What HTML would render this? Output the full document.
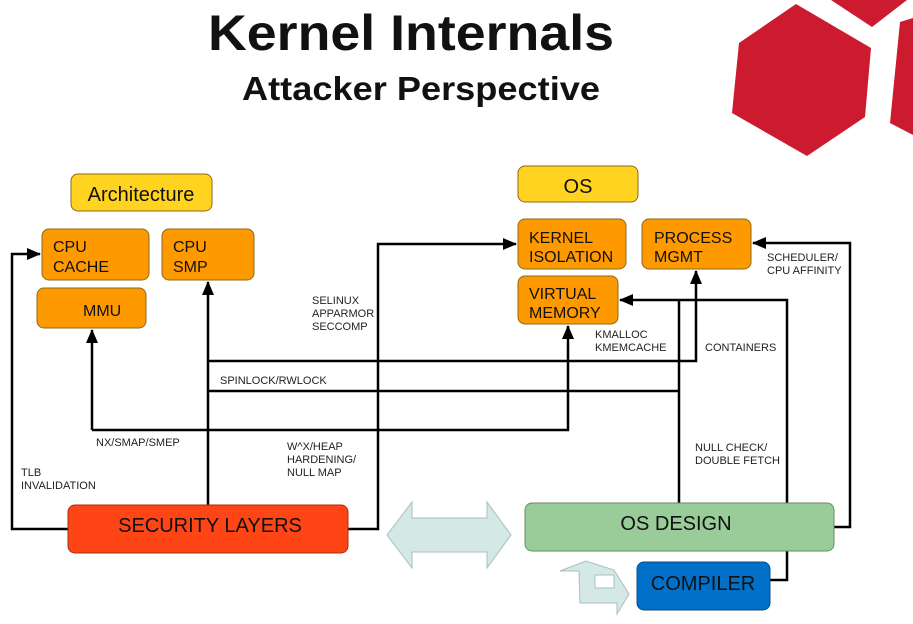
<!DOCTYPE html>
<html><head><meta charset="utf-8"><style>
body{margin:0;background:#fff;}
svg text{font-family:"Liberation Sans",sans-serif;}
</style></head><body>
<svg width="913" height="619" viewBox="0 0 913 619" xmlns="http://www.w3.org/2000/svg">
<rect width="913" height="619" fill="#fff"/>
<!-- logo -->
<polygon points="796,4 871,48 865,117 807,156 732,113 739,43" fill="#cc1a2e"/>
<polygon points="831,0 907,0 872,27" fill="#cc1a2e"/>
<polygon points="900,22 913,18 913,135 890,123" fill="#cc1a2e"/>
<!-- title -->
<text x="411" y="50" font-size="50" font-weight="bold" text-anchor="middle" fill="#111" textLength="406" lengthAdjust="spacingAndGlyphs">Kernel Internals</text>
<text x="421" y="100" font-size="33" font-weight="bold" text-anchor="middle" fill="#111" textLength="358" lengthAdjust="spacingAndGlyphs">Attacker Perspective</text>

<defs><marker id="a" markerWidth="14" markerHeight="12" refX="13" refY="6" orient="auto" markerUnits="userSpaceOnUse"><polygon points="0,0 14,6 0,12" fill="#000"/></marker></defs>
<g stroke="#000" stroke-width="2.5" fill="none">
<polyline points="68,529 12,529 12,254 40,254" marker-end="url(#a)"/>
<polyline points="208,505 208,282" marker-end="url(#a)"/>
<polyline points="208,361 696,361 696,271" marker-end="url(#a)"/>
<polyline points="208,391 679,391"/>
<polyline points="679,503 679,300"/>
<polyline points="787,503 787,300 620,300" marker-end="url(#a)"/>
<polyline points="92,430 92,330" marker-end="url(#a)"/>
<polyline points="92,430 568,430 568,326" marker-end="url(#a)"/>
<polyline points="348,529 378,529 378,244 516,244" marker-end="url(#a)"/>
<polyline points="834,527 850,527 850,243 753,243" marker-end="url(#a)"/>
<polyline points="770,580 787,580 787,551"/>
</g>

<!-- boxes -->
<g stroke="#8a6a1a" stroke-width="1">
<rect x="71" y="174" width="141" height="37" rx="7" fill="#ffd320"/>
<rect x="518" y="166" width="120" height="36" rx="7" fill="#ffd320"/>
<rect x="42" y="229" width="107" height="51" rx="7" fill="#ff9900"/>
<rect x="162" y="229" width="92" height="51" rx="7" fill="#ff9900"/>
<rect x="37" y="288" width="109" height="40" rx="7" fill="#ff9900"/>
<rect x="518" y="219" width="108" height="50" rx="7" fill="#ff9900"/>
<rect x="642" y="219" width="109" height="50" rx="7" fill="#ff9900"/>
<rect x="518" y="276" width="100" height="48" rx="7" fill="#ff9900"/>
<rect x="68" y="505" width="280" height="48" rx="7" fill="#ff4515" stroke="#a03010"/>
<rect x="525" y="503" width="309" height="48" rx="7" fill="#99cc99" stroke="#6a8a6a"/>
<rect x="637" y="562" width="133" height="48" rx="7" fill="#0070c8" stroke="#124a80"/>
</g>
<g fill="#111" font-size="16">
<text x="141" y="201" font-size="20" text-anchor="middle">Architecture</text>
<text x="578" y="193" font-size="20" text-anchor="middle">OS</text>
<text x="53" y="252">CPU</text><text x="53" y="272">CACHE</text>
<text x="173" y="252">CPU</text><text x="173" y="272">SMP</text>
<text x="83" y="316">MMU</text>
<text x="529" y="243">KERNEL</text><text x="529" y="262">ISOLATION</text>
<text x="654" y="243">PROCESS</text><text x="654" y="262">MGMT</text>
<text x="529" y="299">VIRTUAL</text><text x="529" y="318">MEMORY</text>
<text x="210" y="532" font-size="20" text-anchor="middle">SECURITY LAYERS</text>
<text x="676" y="530" font-size="20" text-anchor="middle">OS DESIGN</text>
<text x="703" y="590" font-size="20" text-anchor="middle">COMPILER</text>
</g>
<g fill="#222" font-size="11">
<text x="312" y="304">SELINUX</text><text x="312" y="317">APPARMOR</text><text x="312" y="330">SECCOMP</text>
<text x="220" y="384">SPINLOCK/RWLOCK</text>
<text x="96" y="446">NX/SMAP/SMEP</text>
<text x="287" y="450">W^X/HEAP</text><text x="287" y="463">HARDENING/</text><text x="287" y="476">NULL MAP</text>
<text x="21" y="476">TLB</text><text x="21" y="489">INVALIDATION</text>
<text x="595" y="338">KMALLOC</text><text x="595" y="351">KMEMCACHE</text>
<text x="705" y="351">CONTAINERS</text>
<text x="767" y="261">SCHEDULER/</text><text x="767" y="274">CPU AFFINITY</text>
<text x="695" y="451">NULL CHECK/</text><text x="695" y="464">DOUBLE FETCH</text>
</g>
<!-- double arrow -->
<polygon points="387,535 412,502 412,518 487,518 487,502 511,535 487,568 487,552 412,552 412,568" fill="#d4e8e6" stroke="#a9bfbd" stroke-width="1"/>
<polygon points="560,571 586,561 614,570 629,594 617,614 617,603 580,603 579,571" fill="#d4e8e6" stroke="#a9bfbd" stroke-width="1"/>
<rect x="595" y="575" width="19" height="13" fill="#fff" stroke="#a9bfbd"/>
</svg>
</body></html>
